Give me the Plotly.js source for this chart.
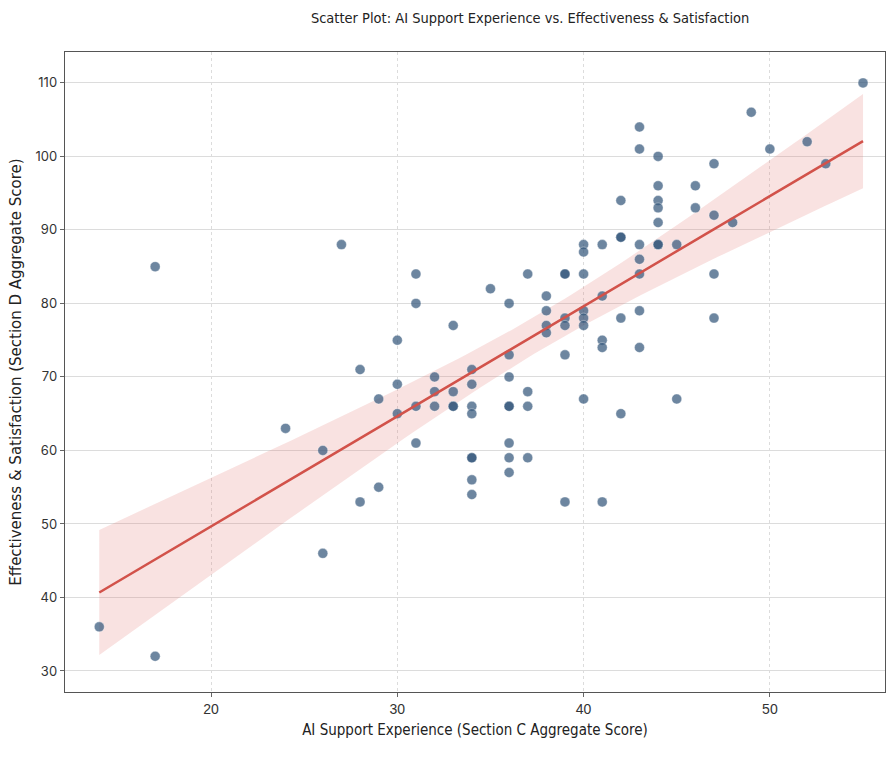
<!DOCTYPE html>
<html>
<head>
<meta charset="utf-8">
<script src="https://cdn.plot.ly/plotly-3.0.1.min.js"></script>
<style>html,body{margin:0;padding:0;background:#fff;}#chart{width:888px;height:758px;}</style>
</head>
<body>
<div id="chart"></div>
<script>
// Section C aggregate score (AI support experience)
const sectionC = [14,17,17,24,26,26,27,28,28,29,29,30,30,30,31,31,31,31,32,32,32,33,33,33,33,
  34,34,34,34,34,34,34,34,35,36,36,36,36,36,36,36,36,37,37,37,37,38,38,38,38,
  39,39,39,39,39,39,40,40,40,40,40,40,40,41,41,41,41,41,42,42,42,42,42,
  43,43,43,43,43,43,43,44,44,44,44,44,44,44,45,45,46,46,47,47,47,47,48,49,50,52,53,55];
// Section D aggregate score (effectiveness & satisfaction)
const sectionD = [36,85,32,63,60,46,88,71,53,67,55,75,69,65,84,80,66,61,70,68,66,77,68,66,66,
  71,69,66,65,59,59,56,54,82,80,73,70,66,66,61,59,57,84,68,66,59,81,79,77,76,
  84,84,78,77,73,53,88,87,84,79,78,77,67,88,81,75,74,53,94,89,89,78,65,
  104,101,88,86,84,79,74,100,96,94,93,91,88,88,88,67,96,93,99,92,84,78,91,106,101,102,99,110];

const xTicks = [20,30,40,50];
const yTicks = [30,40,50,60,70,80,90,100,110];

// OLS fit and confidence band computed from the data
const n = sectionC.length;
const mx = sectionC.reduce((a,b)=>a+b,0)/n;
const my = sectionD.reduce((a,b)=>a+b,0)/n;
let sxx=0, sxy=0;
for (let i=0;i<n;i++){ sxx+=(sectionC[i]-mx)**2; sxy+=(sectionC[i]-mx)*(sectionD[i]-my); }
const slope = sxy/sxx, icpt = my - slope*mx;
let sse=0;
for (let i=0;i<n;i++){ sse += (sectionD[i]-(icpt+slope*sectionC[i]))**2; }
const s = Math.sqrt(sse/(n-2));
const tval = 2.4;
const xmin = Math.min(...sectionC), xmax = Math.max(...sectionC);
const fx=[], fy=[], lo=[], hi=[];
for (let k=0;k<=100;k++){
  const x = xmin + (xmax-xmin)*k/100;
  const yh = icpt + slope*x;
  const se = s*Math.sqrt(1/n + (x-mx)**2/sxx);
  fx.push(x); fy.push(yh); lo.push(yh - tval*se); hi.push(yh + tval*se);
}

const traces = [
  {x: fx, y: lo, mode:'lines', line:{width:0, color:'rgba(0,0,0,0)'}, hoverinfo:'skip', showlegend:false},
  {x: fx, y: hi, mode:'lines', fill:'tonexty', fillcolor:'rgba(226,110,105,0.2)', line:{width:0, color:'rgba(0,0,0,0)'}, hoverinfo:'skip', showlegend:false},
  {x: sectionC, y: sectionD, mode:'markers', type:'scatter', showlegend:false,
   marker:{size:10, color:'rgba(52,88,124,0.72)', line:{width:0.6, color:'rgba(255,255,255,0.6)'}}},
  {x: fx, y: fy, mode:'lines', line:{color:'#d2524a', width:2.5}, showlegend:false}
];

const axisCommon = {
  showline:true, mirror:true, linecolor:'#555', linewidth:1.3,
  ticks:'outside', ticklen:4, tickcolor:'#666',
  gridcolor:'#dcdcdc', gridwidth:1, zeroline:false,
  tickfont:{family:'Inter, Roboto, sans-serif', size:13, color:'#333'}
};

const layout = {
  width:888, height:758,
  margin:{l:65, r:3, t:52, b:66},
  paper_bgcolor:'#fff', plot_bgcolor:'#fff',
  title:{text:'Scatter Plot: AI Support Experience vs. Effectiveness & Satisfaction',
    font:{family:'Liberation Sans Narrow, DejaVu Sans Condensed, sans-serif', size:14.5, color:'#222'},
    xref:'container', x:0.597, xanchor:'center', yref:'container', y:0.976, yanchor:'middle'},
  xaxis: Object.assign({}, axisCommon, {
    range:[12.16,56.18], tickvals:xTicks, ticktext:xTicks.map(String), griddash:'dot',
    tickfont:{family:'Liberation Sans Narrow, sans-serif', size:14, color:'#333'},
    title:{text:'AI Support Experience (Section C Aggregate Score)', standoff:8,
      font:{family:'Liberation Sans Narrow, DejaVu Sans Condensed, sans-serif', size:15, color:'#222'}}
  }),
  yaxis: Object.assign({}, axisCommon, {
    range:[27.14,114.2], tickvals:yTicks, ticktext:yTicks.map(String),
    title:{text:'Effectiveness & Satisfaction (Section D Aggregate Score)', standoff:10,
      font:{family:'DejaVu Sans, sans-serif', size:15, color:'#222'}}
  })
};

Plotly.newPlot('chart', traces, layout, {displayModeBar:false, staticPlot:true});
</script>
</body>
</html>
